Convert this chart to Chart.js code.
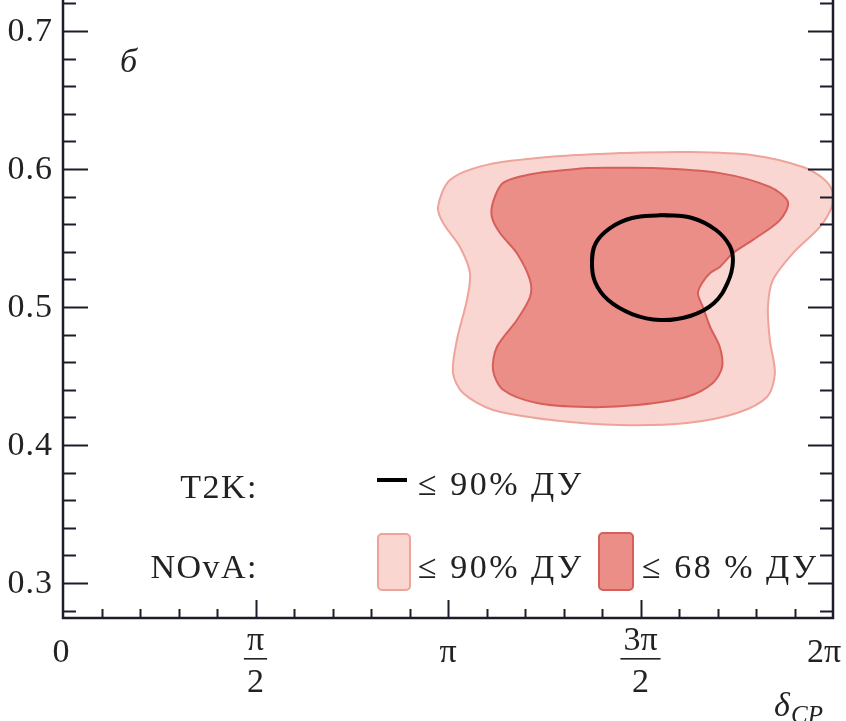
<!DOCTYPE html>
<html>
<head>
<meta charset="utf-8">
<script src="https://cdn.jsdelivr.net/npm/chart.js@4.4.0/dist/chart.umd.min.js"></script>
<style>
  html, body { margin: 0; padding: 0; background: #fff; }
  canvas { display: block; }
</style>
</head>
<body>
<canvas id="grafico" width="846" height="721"></canvas>
<script>
// x em unidades de pi (0..2), y = sin^2(theta23)
const novaOuterX = [1.447, 1.621, 1.792, 1.922, 1.979, 2.0, 1.997, 1.966, 1.896, 1.844, 1.831, 1.836, 1.849, 1.829, 1.751, 1.621, 1.447, 1.273, 1.117, 1.039, 1.013, 1.023, 1.049, 1.057, 1.031, 0.987, 0.974, 1.005, 1.101, 1.273, 1.447];
const novaOuterY = [0.6116, 0.6123, 0.610, 0.6014, 0.592, 0.5826, 0.5725, 0.558, 0.539, 0.5196, 0.5, 0.476, 0.452, 0.435, 0.4232, 0.416, 0.4145, 0.418, 0.4254, 0.4377, 0.452, 0.476, 0.505, 0.5246, 0.5435, 0.561, 0.5725, 0.592, 0.603, 0.609, 0.6116];

const novaInnerX = [1.361, 1.532, 1.706, 1.836, 1.883, 1.862, 1.792, 1.740, 1.706, 1.681, 1.660, 1.649, 1.662, 1.681, 1.706, 1.712, 1.688, 1.621, 1.491, 1.361, 1.231, 1.143, 1.117, 1.127, 1.179, 1.213, 1.213, 1.179, 1.135, 1.114, 1.117, 1.143, 1.231, 1.361];
const novaInnerY = [0.6007, 0.6007, 0.597, 0.587, 0.576, 0.563, 0.5486, 0.539, 0.529, 0.5246, 0.5174, 0.510, 0.5, 0.4855, 0.471, 0.4565, 0.445, 0.435, 0.429, 0.4275, 0.4304, 0.44, 0.4543, 0.471, 0.4906, 0.5072, 0.5196, 0.539, 0.5536, 0.5652, 0.576, 0.590, 0.597, 0.6007];

const t2kX = [1.556, 1.634, 1.696, 1.732, 1.740, 1.727, 1.691, 1.629, 1.551, 1.478, 1.416, 1.382, 1.374, 1.384, 1.421, 1.478, 1.556];
const t2kY = [0.5667, 0.5645, 0.5558, 0.5442, 0.5326, 0.5181, 0.5029, 0.4935, 0.4906, 0.4949, 0.505, 0.5181, 0.5326, 0.5464, 0.5572, 0.5645, 0.5667];

const yTickValues = [0.3, 0.4, 0.5, 0.6, 0.7];
const yTickLabels = ["0.3", "0.4", "0.5", "0.6", "0.7"];
const xTickValues = [0, 0.5, 1, 1.5, 2];
const xTickLabels = [["0"], ["π", "2"], ["π"], ["3π", "2"], ["2π"]];

const painelLetra = "б";
const legendaNomes = ["T2K:", "NOvA:"];
const legendaTextos = ["≤ 90% ДУ", "≤ 90% ДУ", "≤ 68 % ДУ"];

const SERIF = '"Liberation Serif", "DejaVu Serif", serif';
const COR_EIXO = "#1c1c2a";
const COR_TEXTO = "#222";

function pontos(xs, ys) {
  return xs.map((x, i) => ({ x, y: ys[i] }));
}

const eixosPlugin = {
  id: "eixos",
  afterDraw(chart) {
    const { ctx, chartArea: a, scales: { x, y } } = chart;
    ctx.save();

    // ticks internos
    ctx.strokeStyle = COR_EIXO;
    ctx.lineWidth = 2;
    for (let k = 13; k <= 36; k++) {
      const v = k * 0.02;
      if (v < y.min || v > y.max) continue;
      const py = Math.round(y.getPixelForValue(v)) + 0.5;
      const len = k % 5 === 0 ? 25 : 13;
      ctx.beginPath();
      ctx.moveTo(a.left, py); ctx.lineTo(a.left + len, py);
      ctx.moveTo(a.right, py); ctx.lineTo(a.right - len, py);
      ctx.stroke();
    }
    for (let k = 1; k < 20; k++) {
      const px = Math.round(x.getPixelForValue(k * 0.1)) + 0.5;
      const len = k % 5 === 0 ? 18 : 9;
      ctx.beginPath();
      ctx.moveTo(px, a.bottom); ctx.lineTo(px, a.bottom - len);
      ctx.stroke();
    }

    // linhas dos eixos
    ctx.lineWidth = 2.5;
    ctx.beginPath();
    ctx.moveTo(a.left, a.top); ctx.lineTo(a.left, a.bottom);
    ctx.lineTo(a.right, a.bottom); ctx.lineTo(a.right, a.top);
    ctx.stroke();

    // rotulos y
    ctx.fillStyle = COR_TEXTO;
    ctx.font = "34px " + SERIF;
    ctx.letterSpacing = "1px";
    ctx.textAlign = "right";
    ctx.textBaseline = "middle";
    yTickValues.forEach((v, i) => {
      ctx.fillText(yTickLabels[i], 53, y.getPixelForValue(v) + 1);
    });

    // rotulos x
    ctx.letterSpacing = "0px";
    ctx.textAlign = "center";
    ctx.textBaseline = "alphabetic";
    xTickValues.forEach((v, i) => {
      let px = x.getPixelForValue(v);
      const lab = xTickLabels[i];
      if (i === xTickValues.length - 1) px -= 9;
      if (i === 0) px -= 2;
      if (lab.length === 1) {
        ctx.fillText(lab[0], px, 662);
      } else {
        ctx.fillText(lab[0], px, 650);
        const w = ctx.measureText(lab[0]).width + 6;
        ctx.fillRect(px - w / 2, 658, w, 1.6);
        ctx.fillText(lab[1], px, 692);
      }
    });

    // titulo do eixo x
    ctx.textAlign = "left";
    ctx.font = "italic 34px " + SERIF;
    ctx.fillText("δ", 774, 716);
    ctx.font = "italic 25px " + SERIF;
    ctx.fillText("CP", 791, 723);

    // letra do painel
    ctx.font = "italic 34px " + SERIF;
    ctx.fillText(painelLetra, 120, 72);

    // legenda
    ctx.font = "34px " + SERIF;
    ctx.letterSpacing = "1.5px";
    ctx.textAlign = "right";
    ctx.fillText(legendaNomes[0], 258, 498);
    ctx.fillText(legendaNomes[1], 258, 578);

    ctx.textAlign = "left";
    ctx.fillStyle = "#000";
    ctx.fillRect(377, 478, 30, 4);
    ctx.fillStyle = COR_TEXTO;
    ctx.letterSpacing = "2.5px";
    ctx.fillText(legendaTextos[0], 418, 495);

    const caixa = (x0, y0, w, h, fill, stroke) => {
      ctx.beginPath();
      ctx.roundRect(x0, y0, w, h, 4);
      ctx.fillStyle = fill;
      ctx.fill();
      ctx.lineWidth = 2;
      ctx.strokeStyle = stroke;
      ctx.stroke();
    };
    caixa(378, 534, 32, 56, "#fad6d1", "#eea39b");
    caixa(599, 533, 34, 57, "#eb8e88", "#d65f5a");

    ctx.fillStyle = COR_TEXTO;
    ctx.fillText(legendaTextos[1], 418, 578);
    ctx.fillText(legendaTextos[2], 642, 578);

    ctx.restore();
  }
};

const ctx = document.getElementById("grafico").getContext("2d");
new Chart(ctx, {
  type: "line",
  data: {
    datasets: [
      {
        label: "T2K 90%",
        data: pontos(t2kX, t2kY),
        borderColor: "#000",
        borderWidth: 4,
        fill: false,
        tension: 0.4,
        order: 0
      },
      {
        label: "NOvA 68%",
        data: pontos(novaInnerX, novaInnerY),
        borderColor: "#d65f5a",
        backgroundColor: "#eb8e88",
        borderWidth: 2,
        fill: "shape",
        tension: 0.3,
        order: 1
      },
      {
        label: "NOvA 90%",
        data: pontos(novaOuterX, novaOuterY),
        borderColor: "#eea39b",
        backgroundColor: "#f9d6d1",
        borderWidth: 2,
        fill: "shape",
        tension: 0.3,
        order: 2
      }
    ]
  },
  options: {
    responsive: false,
    animation: false,
    layout: { padding: { left: 63, right: 13, top: 0, bottom: 103 } },
    elements: { point: { radius: 0, hoverRadius: 0 } },
    plugins: { legend: { display: false }, tooltip: { enabled: false } },
    scales: {
      x: { type: "linear", min: 0, max: 2, display: false },
      y: { type: "linear", min: 0.27464, max: 0.72246, display: false }
    }
  },
  plugins: [eixosPlugin]
});
</script>
</body>
</html>
